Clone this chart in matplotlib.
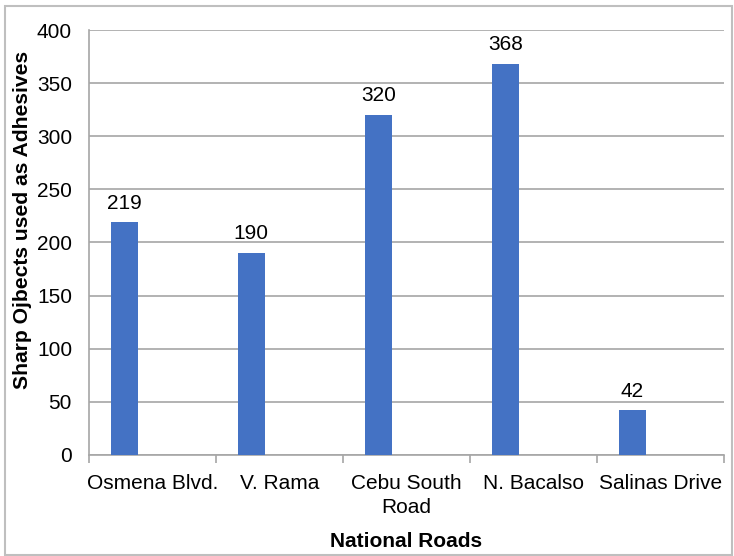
import matplotlib.pyplot as plt
import numpy as np
from matplotlib.patches import Rectangle

plt.rcParams['font.family'] = ['Liberation Sans', 'DejaVu Sans']

# ---------------- DATA ----------------
roads = ["Osmena Blvd.", "V. Rama", "Cebu South\nRoad", "N. Bacalso", "Salinas Drive"]
counts = [219, 190, 320, 368, 42]
y_ticks = [0, 50, 100, 150, 200, 250, 300, 350, 400]
# --------------------------------------

BAR_COLOR = "#4472C4"
GRID_COLOR = "#A6A6A6"
FS = 15

fig = plt.figure(figsize=(7.34, 5.56), dpi=100)
ax = fig.add_axes([0.1208, 0.1817, 0.8656, 0.7643])

x = np.arange(len(roads))
ax.bar(x - 0.22, counts, width=0.215, color=BAR_COLOR, zorder=3)

for xi, v in zip(x, counts):
    ax.annotate(str(v), (xi - 0.22, v), xytext=(0, 7), textcoords="offset points",
                ha="center", va="bottom", fontsize=FS)

ax.set_xlim(-0.5, len(roads) - 0.5)
ax.set_ylim(0, 400)
ax.set_yticks(y_ticks)
ax.tick_params(axis="y", length=0, labelsize=FS, pad=12)
ax.yaxis.grid(True, color=GRID_COLOR, linewidth=1.2, zorder=0)

# category boundaries carry the ticks
ax.set_xticks(np.arange(-0.5, len(roads)), minor=False)
ax.set_xticklabels([])
ax.set_xticks(x, minor=True)
ax.set_xticklabels(roads, minor=True, fontsize=FS, linespacing=1.3)
ax.tick_params(axis="x", which="major", length=6, color=GRID_COLOR, width=1.2)
ax.tick_params(axis="x", which="minor", length=0, pad=14)

for side in ["top", "right"]:
    ax.spines[side].set_visible(False)
ax.spines["left"].set_color(GRID_COLOR)
ax.spines["bottom"].set_color(GRID_COLOR)
ax.spines["left"].set_linewidth(1.2)
ax.spines["bottom"].set_linewidth(1.2)

ax.set_ylabel("Sharp Ojbects used as Adhesives", fontsize=15.2, fontweight="bold")
ax.yaxis.set_label_coords(-0.089, 0.553)
ax.set_xlabel("National Roads", fontsize=FS, fontweight="bold", labelpad=11)

fig.patches.append(Rectangle((0.007, 0.002), 0.99, 0.987, transform=fig.transFigure,
                             fill=False, edgecolor="#BFBFBF", linewidth=1.5))

plt.savefig("out.png", dpi=100)
